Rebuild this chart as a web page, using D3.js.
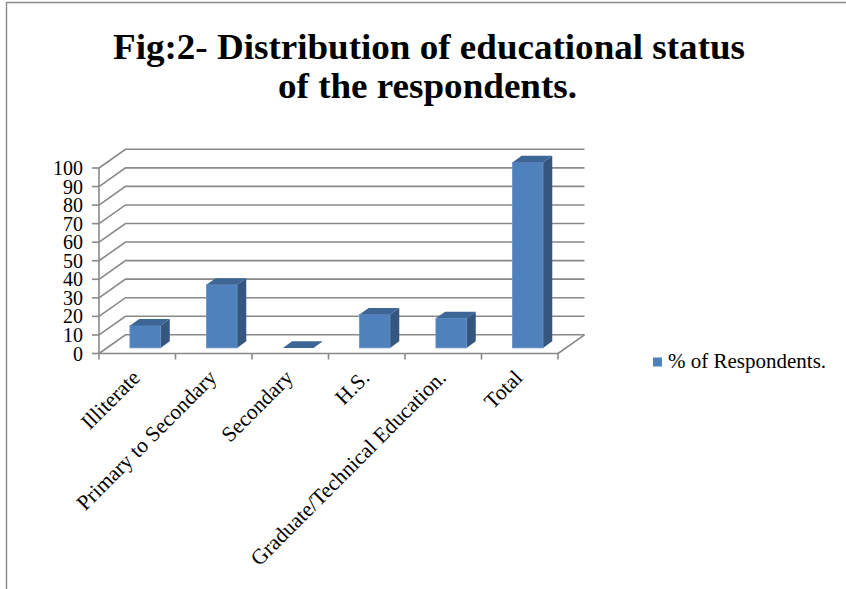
<!DOCTYPE html>
<html>
<head>
<meta charset="utf-8">
<script src="https://cdn.jsdelivr.net/npm/d3@7"></script>
<style>
  html, body { margin: 0; padding: 0; background: #ffffff; }
  svg { display: block; }
  text { font-family: "Liberation Serif", "Times New Roman", serif; fill: #000; }
</style>
</head>
<body>
<svg id="chart" width="846" height="589"></svg>
<script>
// Educational status of respondents (% of respondents)
const categories = ["Illiterate", "Primary to Secondary", "Secondary", "H.S.", "Graduate/Technical Education.", "Total"];
const respondentsPct = [12, 34, 0, 18, 16, 100];
const yTickValues = [0, 10, 20, 30, 40, 50, 60, 70, 80, 90, 100];
const seriesName = "% of Respondents.";
const titleLines = ["Fig:2- Distribution of educational status", "of the respondents."];

const svg = d3.select("#chart");

// Plot box (front plane) and 3D depth offset
const plotLeft = 99, plotRight = 558, plotBottom = 353.5, plotTop = 168;
const DX = 26.5, DY = 18.7;          // full depth offset of the walls
const barDepthStart = 0.3, barDepth = 0.35;

const x = d3.scaleBand().domain(categories).range([plotLeft, plotRight]);
const y = d3.scaleLinear().domain([0, 100]).range([plotBottom, plotTop]);

const gridColor = "#898989";

// Outer frame (left and top edges)
svg.append("path")
  .attr("d", `M6.5,589 L6.5,2.5 L846,2.5`)
  .attr("fill", "none").attr("stroke", "#8a8a8a").attr("stroke-width", 1.4);

// Title
svg.append("g").selectAll("text").data(titleLines).join("text")
  .attr("x", (d, i) => i === 0 ? 429 : 427.5)
  .attr("y", (d, i) => i === 0 ? 58.5 : 98)
  .attr("text-anchor", "middle")
  .attr("font-size", 35)
  .attr("font-weight", "bold")
  .attr("textLength", (d, i) => i === 0 ? 632 : 299)
  .attr("lengthAdjust", "spacingAndGlyphs")
  .text(d => d);

// Side wall diagonals and back wall gridlines
const grid = svg.append("g").attr("stroke", gridColor).attr("stroke-width", 1.6).attr("fill", "none");
grid.selectAll("path.wall").data(yTickValues).join("path")
  .attr("class", "wall")
  .attr("d", v => `M${plotLeft},${y(v)} L${plotLeft + DX},${y(v) - DY} L${plotRight + DX},${y(v) - DY}`);

// Floor right edge
grid.append("path")
  .attr("d", `M${plotRight},${plotBottom} L${plotRight + DX},${plotBottom - DY}`);

// Front axes
const axes = svg.append("g").attr("stroke", gridColor).attr("stroke-width", 1.6).attr("fill", "none");
axes.append("path").attr("d", `M${plotLeft},${plotTop} L${plotLeft},${plotBottom}`);
axes.append("path").attr("d", `M${plotLeft},${plotBottom} L${plotRight},${plotBottom}`);
axes.selectAll("path.ytick").data(yTickValues).join("path")
  .attr("class", "ytick")
  .attr("d", v => `M${plotLeft - 7},${y(v)} L${plotLeft},${y(v)}`);
const xBounds = categories.map(c => x(c)).concat([plotRight]);
axes.selectAll("path.xtick").data(xBounds).join("path")
  .attr("class", "xtick")
  .attr("d", v => `M${v},${plotBottom} L${v},${plotBottom + 6}`);

// Y tick labels
svg.append("g").selectAll("text").data(yTickValues).join("text")
  .attr("x", 83)
  .attr("y", v => y(v))
  .attr("dy", "0.35em")
  .attr("text-anchor", "end")
  .attr("font-size", 20)
  .text(v => v);

// X category labels, rotated
svg.append("g").selectAll("text").data(categories).join("text")
  .attr("transform", c => `translate(${x(c) + x.bandwidth() / 2 + 4},${379}) rotate(-45)`)
  .attr("text-anchor", "end")
  .attr("font-size", 21.5)
  .text(c => c);

// 3D bars
const bw = x.bandwidth() * 0.4;
const bars = svg.append("g");
categories.forEach((c, i) => {
  const v = respondentsPct[i];
  const x0 = x(c) + x.bandwidth() * 0.3 + barDepthStart * DX;
  const x1 = x0 + bw;
  const yTop = y(v) - barDepthStart * DY;
  const yBot = y(0) - barDepthStart * DY;
  const ddx = barDepth * DX, ddy = barDepth * DY;
  const g = bars.append("g");
  if (v > 0) {
    g.append("path")
      .attr("d", `M${x1},${yTop} L${x1 + ddx},${yTop - ddy} L${x1 + ddx},${yBot - ddy} L${x1},${yBot} Z`)
      .attr("fill", "#34567f");
    g.append("rect")
      .attr("x", x0).attr("y", yTop).attr("width", bw).attr("height", yBot - yTop)
      .attr("fill", "#4f81bd").attr("stroke", "#6893c8").attr("stroke-width", 0.8);
  }
  g.append("path")
    .attr("d", `M${x0},${yTop} L${x0 + ddx},${yTop - ddy} L${x1 + ddx},${yTop - ddy} L${x1},${yTop} Z`)
    .attr("fill", "#3d6596");
});

// Legend
const legend = svg.append("g");
legend.append("rect").attr("x", 653).attr("y", 357.5).attr("width", 9).attr("height", 9).attr("fill", "#4f81bd");
legend.append("text").attr("x", 668).attr("y", 367.5).attr("font-size", 21).text(seriesName);
</script>
</body>
</html>
